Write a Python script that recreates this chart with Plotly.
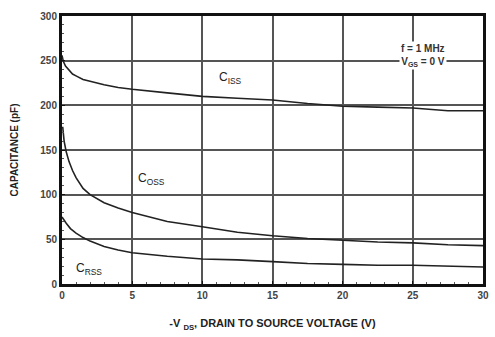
import plotly.graph_objects as go

x_ciss = [0, 0.1, 0.25, 0.5, 0.75, 1, 1.5, 2, 3, 4, 5, 7.5, 10, 12.5, 15, 17.5, 20, 22.5, 25, 27.5, 30]
y_ciss = [256, 249, 244, 239, 235, 233, 229, 227, 223, 220, 218, 214, 210, 208, 206, 202, 199, 198, 197, 194, 194]

x_coss = [0.05, 0.15, 0.3, 0.5, 0.75, 1, 1.5, 2, 3, 4, 5, 7.5, 10, 12.5, 15, 17.5, 20, 22.5, 25, 27.5, 30]
y_coss = [176, 160, 148, 137, 127, 119, 107, 100, 91, 85, 80, 70, 64, 58, 54, 51, 49, 47, 46, 44, 43]

x_crss = [0, 0.15, 0.3, 0.6, 1, 1.5, 2, 3, 4, 5, 7.5, 10, 12.5, 15, 17.5, 20, 22.5, 25, 27.5, 30]
y_crss = [75, 71, 68, 62, 57, 52, 48, 42, 38, 35, 31, 28, 27, 25, 23, 22, 21, 21, 20, 19]

x_ticks = [0, 5, 10, 15, 20, 25, 30]
y_ticks = [0, 50, 100, 150, 200, 250, 300]

fig = go.Figure()
for xs, ys in [(x_ciss, y_ciss), (x_coss, y_coss), (x_crss, y_crss)]:
    fig.add_trace(go.Scatter(x=xs, y=ys, mode="lines",
                             line=dict(color="#222", width=1.6),
                             showlegend=False, hoverinfo="skip"))

fam = "Liberation Sans, Arial, sans-serif"

fig.add_annotation(x=12, y=231, text="C<sub>ISS</sub>", showarrow=False,
                   font=dict(size=12, family=fam, color="#222"))
fig.add_annotation(x=6.4, y=118, text="C<sub>OSS</sub>", showarrow=False,
                   font=dict(size=12, family=fam, color="#222"))
fig.add_annotation(x=1.9, y=17, text="C<sub>RSS</sub>", showarrow=False,
                   font=dict(size=12, family=fam, color="#222"))
fig.add_annotation(x=25.7, y=256, text="<b>f = 1 MHz<br>V<sub>GS</sub> = 0 V</b>", showarrow=False,
                   bgcolor="white", align="center",
                   font=dict(size=10, family=fam, color="#333"))

fig.update_layout(
    width=495, height=337,
    margin=dict(l=62, r=6, t=16, b=53),
    paper_bgcolor="white", plot_bgcolor="white",
    font=dict(family=fam, color="#333"),
)
fig.update_xaxes(range=[0, 30], tickvals=x_ticks, ticktext=[f"<b>{t}</b>" for t in x_ticks],
                 tickfont=dict(size=10, color="#444"),
                 showgrid=True, gridcolor="#555", gridwidth=2,
                 showline=True, linecolor="#111", linewidth=3, mirror=True,
                 ticks="inside", ticklen=3, tickcolor="#111",
                 minor=dict(dtick=1, ticks="inside", ticklen=2, tickcolor="#555", showgrid=False),
                 zeroline=False,
                 title=dict(text="<b>-V <sub>DS</sub>, DRAIN TO SOURCE VOLTAGE (V)</b>",
                            font=dict(size=11, color="#222"), standoff=20))
fig.update_yaxes(range=[0, 300], tickvals=y_ticks, ticktext=[f"<b>{t}</b>" for t in y_ticks],
                 tickfont=dict(size=10, color="#444"),
                 showgrid=True, gridcolor="#555", gridwidth=2,
                 showline=True, linecolor="#111", linewidth=3, mirror=True,
                 ticks="inside", ticklen=3, tickcolor="#111",
                 minor=dict(dtick=10, ticks="inside", ticklen=2, tickcolor="#555", showgrid=False),
                 zeroline=False,
                 title=dict(text="<b>CAPACITANCE (pF)</b>", font=dict(size=10, color="#222"), standoff=20))

fig.write_html("out.html")
